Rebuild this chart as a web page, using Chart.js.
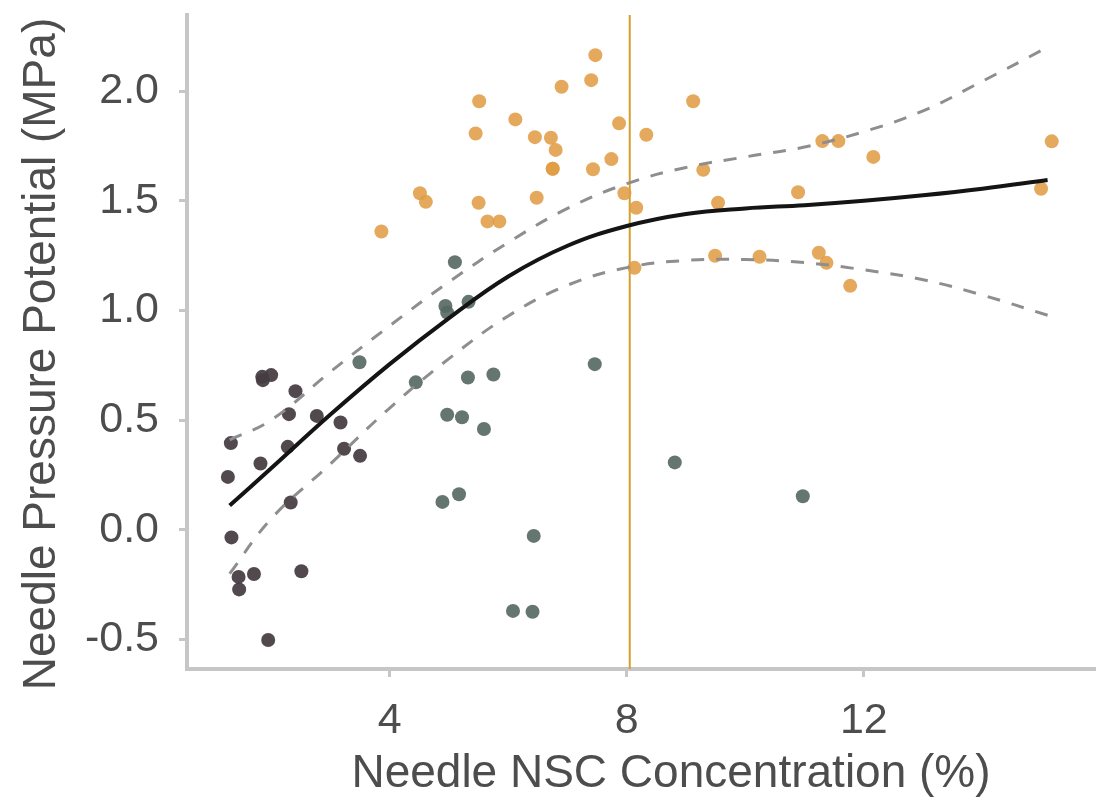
<!DOCTYPE html>
<html><head><meta charset="utf-8">
<script src="https://cdn.jsdelivr.net/npm/chart.js@4/dist/chart.umd.min.js"></script>
<style>html,body{margin:0;padding:0;background:#fff;}</style>
</head><body>
<canvas id="c" width="1102" height="804"></canvas>
<script>
// ---- data ----
const xTitle = 'Needle NSC Concentration (%)';
const yTitle = 'Needle Pressure Potential (MPa)';
const xTicks = [4, 8, 12];
const yTicks = [-0.5, 0, 0.5, 1.0, 1.5, 2.0];
const xRange = [0.58, 15.9];
const yRange = [-0.635, 2.347];
const threshold = 8.05;

const lowNSC = [1.85, 1.86, 2.00, 2.41, 2.30, 2.77, 2.28, 3.23, 1.82, 1.27, 1.45, 1.71, 2.51, 1.46, 1.32, 3.17, 3.50, 2.33, 1.33, 1.95];
const lowPP  = [0.697, 0.682, 0.705, 0.632, 0.527, 0.519, 0.378, 0.369, 0.302, 0.241, -0.215, -0.202, -0.189, -0.272, 0.395, 0.489, 0.337, 0.124, -0.035, -0.503];

const midNSC = [3.49, 4.44, 5.10, 4.94, 4.97, 5.33, 5.32, 5.75, 7.46, 4.97, 5.22, 5.59, 4.89, 5.17, 6.43, 6.08, 6.41, 8.81, 10.97];
const midPP  = [0.764, 0.672, 1.220, 1.020, 0.990, 1.039, 0.694, 0.708, 0.755, 0.524, 0.513, 0.459, 0.127, 0.162, -0.028, -0.370, -0.374, 0.307, 0.153];

const highNSC = [7.47, 7.40, 6.90, 5.51, 6.12, 5.45, 6.45, 6.72, 6.80, 7.87, 8.33, 7.74, 6.75, 6.75, 7.43, 4.51, 4.61, 5.50, 6.48, 7.96, 8.16, 5.65, 5.85, 3.86, 8.13, 9.12, 11.30, 11.57, 12.16, 9.29, 9.54, 10.89, 9.49, 10.24, 11.24, 11.37, 11.77, 15.17, 14.99];
const highPP  = [2.164, 2.050, 2.020, 1.954, 1.871, 1.807, 1.790, 1.787, 1.732, 1.853, 1.801, 1.690, 1.646, 1.646, 1.644, 1.534, 1.495, 1.491, 1.514, 1.534, 1.468, 1.406, 1.406, 1.360, 1.194, 1.954, 1.772, 1.772, 1.700, 1.641, 1.491, 1.539, 1.249, 1.245, 1.263, 1.217, 1.112, 1.771, 1.555];

const fitNSC   = [1.3, 2.0, 3.0, 4.0, 5.0, 6.0, 7.0, 8.0, 9.0, 10.0, 11.0, 12.0, 13.0, 14.0, 15.1];
const fitPP    = [0.11, 0.28, 0.525, 0.755, 0.965, 1.155, 1.295, 1.385, 1.44, 1.465, 1.48, 1.50, 1.525, 1.555, 1.595];
const upperPP  = [0.41, 0.50, 0.72, 0.93, 1.13, 1.31, 1.465, 1.578, 1.652, 1.70, 1.745, 1.815, 1.91, 2.045, 2.20];
const lowerPP  = [-0.20, 0.05, 0.30, 0.555, 0.78, 0.975, 1.115, 1.195, 1.228, 1.232, 1.218, 1.185, 1.14, 1.07, 0.978];

// ---- build ----
const pts = (xs, ys) => xs.map((x, i) => ({x, y: ys[i]}));
const textColor = '#4d4d4d';
const axisColor = '#c6c6c6';
const fontFam = '"Liberation Sans", Arial, Helvetica, sans-serif';

const titlePlugin = {
  id: 'axisTitles',
  afterDraw(chart) {
    const ctx = chart.ctx, a = chart.chartArea;
    ctx.save();
    ctx.fillStyle = textColor;
    ctx.font = '46px ' + fontFam;
    ctx.textAlign = 'center';
    ctx.textBaseline = 'alphabetic';
    ctx.fillText(xTitle, (a.left + a.right) / 2 + 30, 787);
    ctx.translate(55, (a.top + a.bottom) / 2 + 12);
    ctx.rotate(-Math.PI / 2);
    ctx.fillText(yTitle, 0, 0);
    ctx.restore();
  }
};

const lineDs = (ys, color, width, dash, order) => ({
  type: 'line', data: pts(fitNSC, ys), borderColor: color, borderWidth: width,
  borderDash: dash, pointRadius: 0, fill: false, tension: 0.4, order
});
const scatterDs = (xs, ys, color) => ({
  type: 'scatter', data: pts(xs, ys), backgroundColor: color, borderWidth: 0,
  pointRadius: 7, pointHoverRadius: 7, order: 5
});

new Chart(document.getElementById('c'), {
  data: {
    datasets: [
      lineDs(fitPP, '#141414', 4, [], 0),
      lineDs(upperPP, '#8e8e8e', 3, [13, 12], 1),
      lineDs(lowerPP, '#8e8e8e', 3, [13, 12], 1),
      scatterDs(highNSC, highPP, 'rgba(224,157,70,0.88)'),
      scatterDs(midNSC, midPP, 'rgba(88,105,100,0.92)'),
      scatterDs(lowNSC, lowPP, 'rgba(70,62,66,0.94)'),
      { type: 'line', data: [{x: threshold, y: yRange[0]}, {x: threshold, y: yRange[1]}],
        borderColor: '#d2a02c', borderWidth: 2, pointRadius: 0, order: 9 }
    ]
  },
  options: {
    responsive: false, animation: false, events: [],
    layout: { padding: { top: 15, right: 2, left: 0, bottom: 0 } },
    plugins: { legend: { display: false }, tooltip: { enabled: false } },
    scales: {
      x: {
        type: 'linear', min: xRange[0], max: xRange[1],
        afterBuildTicks: s => { s.ticks = xTicks.map(v => ({value: v})); },
        afterFit: s => { s.height = 135; s.paddingLeft = 0; s.paddingRight = 0; },
        ticks: { color: textColor, font: { size: 43, family: fontFam }, padding: 18 },
        grid: { drawOnChartArea: false, drawTicks: true, tickLength: 8, tickWidth: 3, tickColor: axisColor },
        border: { display: true, color: axisColor, width: 4 }
      },
      y: {
        type: 'linear', min: yRange[0], max: yRange[1],
        afterBuildTicks: s => { s.ticks = yTicks.map(v => ({value: v})); },
        afterFit: s => { s.width = 187; s.paddingTop = 0; s.paddingBottom = 0; },
        ticks: { color: textColor, font: { size: 43, family: fontFam }, padding: 20,
                 callback: v => Number(v).toFixed(1) },
        grid: { drawOnChartArea: false, drawTicks: true, tickLength: 8, tickWidth: 3, tickColor: axisColor },
        border: { display: true, color: axisColor, width: 4 }
      }
    }
  },
  plugins: [titlePlugin]
});
</script>
</body></html>
